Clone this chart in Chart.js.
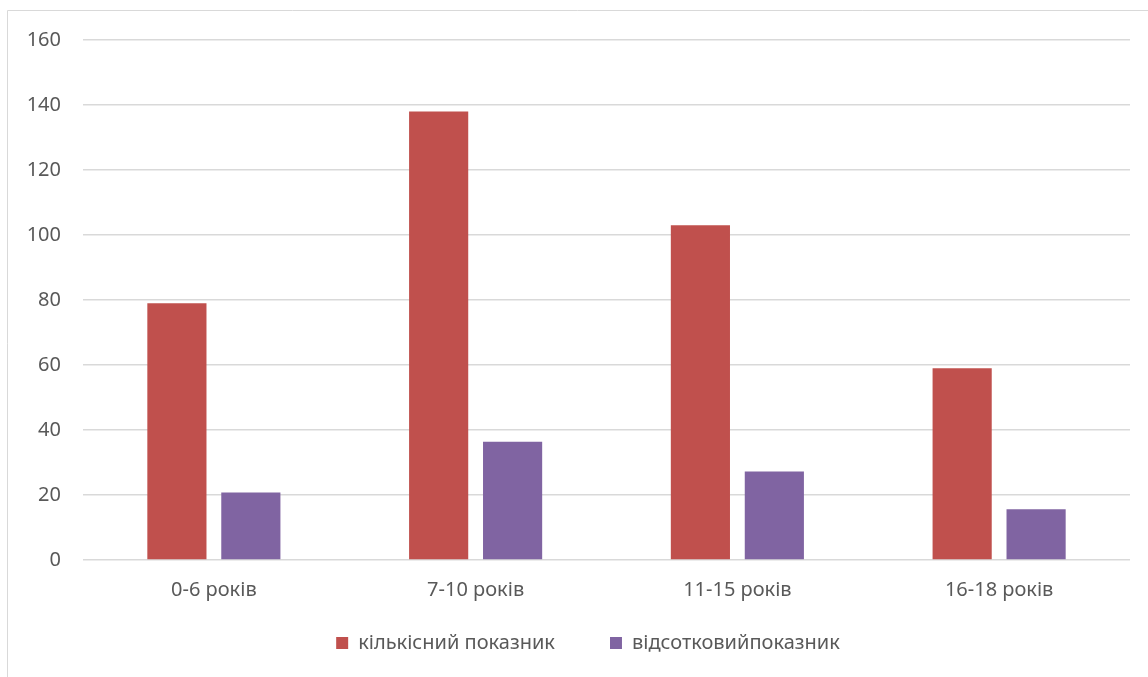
<!DOCTYPE html>
<html>
<head>
<meta charset="utf-8">
<script src="https://cdn.jsdelivr.net/npm/chart.js@4.4.1/dist/chart.umd.min.js"></script>
<style>
  html, body { margin: 0; padding: 0; background: #fff; }
  #wrap { width: 1148px; height: 677px; position: relative; }
</style>
</head>
<body>
<div id="wrap"><canvas id="chart" width="1148" height="677"></canvas></div>
<script>
// Data
const categories = ['0-6 років', '7-10 років', '11-15 років', '16-18 років'];
const countValues = [79, 138, 103, 59];          // кількісний показник
const percentValues = [20.8, 36.4, 27.2, 15.6];  // відсотковий показник
const seriesNames = ['кількісний показник', 'відсотковийпоказник'];
const yTicks = { min: 0, max: 160, step: 20 };

const textColor = '#595959';
const gridColor = '#d9d9d9';
const fontFamily = "'Noto Sans', 'DejaVu Sans', sans-serif";

// light frame around the chart (like the office chart border)
const framePlugin = {
    id: 'frame',
    beforeDraw(chart) {
        const c = chart.ctx;
        c.save();
        c.strokeStyle = gridColor;
        c.lineWidth = 1;
        c.beginPath();
        c.moveTo(7.5, chart.height);
        c.lineTo(7.5, 10.5);
        c.lineTo(chart.width, 10.5);
        c.stroke();
        c.restore();
    }
};

// nudge the legend into the same spot as in the picture
const legendShift = {
    id: 'legendShift',
    afterLayout(chart) {
        const lg = chart.legend;
        lg.top -= 32; lg.bottom -= 32;
        lg.left += 19; lg.right += 19;
    }
};

const ctx = document.getElementById('chart').getContext('2d');
const chart = new Chart(ctx, {
    type: 'bar',
    data: {
        labels: categories,
        datasets: [{
            label: seriesNames[0],
            data: countValues,
            backgroundColor: '#C0504D',
            categoryPercentage: 0.565,
            barPercentage: 0.8
        }, {
            label: seriesNames[1],
            data: percentValues,
            backgroundColor: '#8064A2',
            categoryPercentage: 0.565,
            barPercentage: 0.8
        }]
    },
    options: {
        responsive: false,
        animation: false,
        layout: { padding: { left: 8, right: 18, top: 40, bottom: -18 } },
        plugins: {
            legend: {
                position: 'bottom',
                labels: {
                    boxWidth: 12,
                    boxHeight: 12,
                    color: textColor,
                    padding: 55,
                    font: { family: fontFamily, size: 20 }
                }
            },
            tooltip: { enabled: false }
        },
        scales: {
            x: {
                grid: { display: false },
                border: { display: false },
                ticks: {
                    color: textColor,
                    padding: 10,
                    font: { family: fontFamily, size: 20 }
                },
                afterFit(scale) { scale.height = 50; }
            },
            y: {
                min: yTicks.min,
                max: yTicks.max,
                grid: { color: gridColor, lineWidth: 1.5, drawTicks: false },
                border: { display: false },
                ticks: {
                    stepSize: yTicks.step,
                    color: textColor,
                    padding: 22,
                    font: { family: fontFamily, size: 20 }
                },
                afterFit(scale) { scale.width = 75; }
            }
        }
    },
    plugins: [framePlugin, legendShift]
});
console.log(JSON.stringify(chart.chartArea), chart.legend.top, chart.legend.height);
</script>
</body>
</html>
